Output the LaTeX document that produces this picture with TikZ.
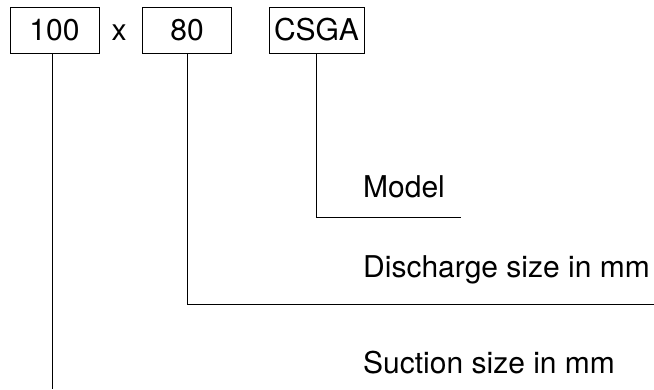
\documentclass[tikz,border=0pt]{standalone}
\usepackage{fontspec}
\setmainfont{TeX Gyre Heros}
\usepackage{tikz}
\usetikzlibrary{positioning,calc}

\begin{document}
\begin{tikzpicture}[x=1pt,y=-1pt,font=\fontsize{30}{36}\selectfont,
  part/.style={draw,line width=0.8pt,minimum width=89pt,minimum height=46pt,inner xsep=5pt,inner ysep=0pt},
  lbl/.style={anchor=base west,inner sep=0pt},
  lead/.style={line width=0.8pt}]
  \useasboundingbox (0,0) rectangle (654,389);
  % code boxes of the type designation
  \node[part] (size1) at (54.5,30) {100};
  \node[anchor=base,inner sep=0pt] (times) at (119,40) {x};
  \node[part] (size2) at (187,30) {80};
  \node[part] (model) at (316.5,30) {CSGA};
  % explanations
  \node[lbl] (tmodel) at (363,197) {Model};
  \node[lbl] (tdis) at (363,277) {Discharge size in mm};
  \node[lbl] (tsuc) at (363,373) {Suction size in mm};
  % leader lines
  \coordinate (c1) at (461,217);
  \coordinate (c2) at (654,304);
  \coordinate (c3) at (52,389);
  \draw[lead] (model.south) |- (c1);
  \draw[lead] (size2.south) |- (c2);
  \draw[lead] (size1.south -| c3) -- (c3);
\end{tikzpicture}
\end{document}
